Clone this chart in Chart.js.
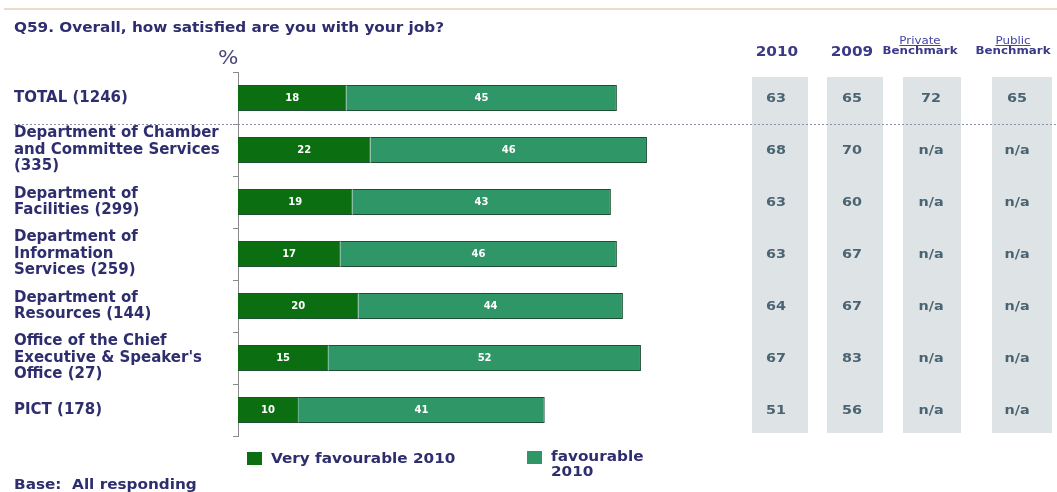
<!DOCTYPE html>
<html lang="en">
<head>
  <meta charset="UTF-8" />
  <title>Q59 Job satisfaction</title>
  <script src="https://cdn.jsdelivr.net/npm/chart.js"></script>
  <style>
    body { margin: 0; background: #fff; font-family: "DejaVu Sans", Verdana, sans-serif; }
    #wrap { position: relative; width: 1057px; height: 492px; overflow: hidden; }
    #topline { position: absolute; left: 4px; right: 0; top: 8px; height: 2px; background: #efdac8; }
    .txt { position: absolute; color: #2e2e6e; font-weight: bold; white-space: nowrap; transform: scaleX(1.13); transform-origin: left center; }
    #title { left: 14px; top: 19px; font-size: 13.5px; }
    #pct { left: 218px; top: 46px; font-size: 19px; color: #4a4a78; font-weight: normal; }
    .head { position: absolute; top: 43px; width: 90px; text-align: center; color: #3a3a88; font-weight: bold; font-size: 13.5px; transform: scaleX(1.13); }
    .bench { top: 35px; font-size: 10.5px; line-height: 10px; }
    .bench u { font-weight: normal; color: #4545a8; }
    #legend .sw { position: absolute; width: 15px; height: 13px; }
    #base { left: 14px; top: 476px; font-size: 13.5px; }
  </style>
</head>
<body>
<div id="wrap">
  <div id="topline"></div>
  <div class="txt" id="title">Q59. Overall, how satisfied are you with your job?</div>
  <div class="txt" id="pct">%</div>
  <div class="head" style="left:732px">2010</div>
  <div class="head" style="left:807px">2009</div>
  <div class="head bench" style="left:875px"><u>Private</u><br>Benchmark</div>
  <div class="head bench" style="left:968px"><u>Public</u><br>Benchmark</div>
  <div id="legend"></div>
  <div class="txt" id="base">Base:&nbsp; All responding</div>
  <canvas id="chart" width="1057" height="492"></canvas>
</div>

<script>
  // category labels (multi-line) and the two stacked series
  const categories = [
    ['TOTAL (1246)'],
    ['Department of Chamber', 'and Committee Services', '(335)'],
    ['Department of', 'Facilities (299)'],
    ['Department of', 'Information', 'Services (259)'],
    ['Department of', 'Resources (144)'],
    ['Office of the Chief', "Executive & Speaker's", 'Office (27)'],
    ['PICT (178)']
  ];
  const veryFavourable = [18, 22, 19, 17, 20, 15, 10];
  const favourable = [45, 46, 43, 46, 44, 52, 41];

  // comparison table on the right
  const col2010 = ['63', '68', '63', '63', '64', '67', '51'];
  const col2009 = ['65', '70', '60', '67', '67', '83', '56'];
  const privateBenchmark = ['72', 'n/a', 'n/a', 'n/a', 'n/a', 'n/a', 'n/a'];
  const publicBenchmark = ['65', 'n/a', 'n/a', 'n/a', 'n/a', 'n/a', 'n/a'];

  const seriesLabels = ['Very favourable 2010', 'favourable 2010'];
  const seriesColors = ['#0b6e10', '#2f9668'];

  // grey column boxes and where their values sit
  const tableCols = [
    { cx: 780, w: 56, tx: 776, values: col2010 },
    { cx: 855, w: 56, tx: 852, values: col2009 },
    { cx: 932, w: 58, tx: 931, values: privateBenchmark },
    { cx: 1022, w: 60, tx: 1017, values: publicBenchmark }
  ];

  const tablePlugin = {
    id: 'sideTable',
    beforeDatasetsDraw(chart) {
      const { ctx, scales: { y } } = chart;
      ctx.save();
      ctx.fillStyle = '#dee4e6';
      const top = y.top + 5, bottom = y.bottom - 3;
      tableCols.forEach(c => ctx.fillRect(c.cx - c.w / 2, top, c.w, bottom - top));
      ctx.restore();
    },
    afterDatasetsDraw(chart) {
      const { ctx, scales: { y } } = chart;
      ctx.save();
      ctx.textAlign = 'center';
      ctx.textBaseline = 'middle';
      // segment values inside the bars
      ctx.fillStyle = '#ffffff';
      ctx.font = 'bold 10px "DejaVu Sans"';
      chart.data.datasets.forEach((ds, di) => {
        chart.getDatasetMeta(di).data.forEach((bar, i) => {
          ctx.fillText(String(ds.data[i]), (bar.x + bar.base) / 2, bar.y);
        });
      });
      // table values, slightly widened like the rest of the text
      ctx.fillStyle = '#4b6473';
      ctx.font = 'bold 12.5px "DejaVu Sans"';
      tableCols.forEach(c => {
        c.values.forEach((v, i) => {
          ctx.save();
          ctx.translate(c.tx, y.getPixelForValue(i) + 1);
          ctx.scale(1.15, 1);
          ctx.fillText(v, 0, 0);
          ctx.restore();
        });
      });
      // dotted separator under the TOTAL row
      const sepY = Math.round((y.getPixelForValue(0) + y.getPixelForValue(1)) / 2) + 0.5;
      ctx.strokeStyle = '#8d8fa6';
      ctx.lineWidth = 1;
      ctx.setLineDash([2, 2]);
      ctx.beginPath();
      ctx.moveTo(14, sepY);
      ctx.lineTo(chart.width, sepY);
      ctx.stroke();
      ctx.restore();
    }
  };

  new Chart(document.getElementById('chart'), {
    type: 'bar',
    data: {
      labels: categories,
      datasets: [
        { label: seriesLabels[0], data: veryFavourable, backgroundColor: seriesColors[0] },
        { label: seriesLabels[1], data: favourable, backgroundColor: seriesColors[1] }
      ].map(d => Object.assign(d, {
        borderColor: '#1f4f33', borderWidth: 1,
        categoryPercentage: 1, barPercentage: 0.5
      }))
    },
    options: {
      indexAxis: 'y',
      responsive: false,
      animation: false,
      layout: { padding: { left: 14, top: 72, bottom: 56, right: 398 } },
      plugins: { legend: { display: false }, tooltip: { enabled: false } },
      scales: {
        x: { stacked: true, min: 0, max: 70, display: false },
        y: {
          stacked: true,
          afterFit(scale) { scale.width = 224; },
          border: { display: true, color: '#8a8a8a' },
          grid: { drawOnChartArea: false, tickLength: 5, color: '#8a8a8a' },
          ticks: {
            autoSkip: false,
            crossAlign: 'far',
            color: '#2e2e6e',
            font: { family: 'DejaVu Sans', weight: 'bold', size: 15, lineHeight: 1.1 }
          }
        }
      }
    },
    plugins: [tablePlugin]
  });

  // legend built from the series definitions
  const legend = document.getElementById('legend');
  const legendPos = [{ x: 247, y: 452, w: null }, { x: 527, y: 451, w: 80 }];
  seriesLabels.forEach((lab, i) => {
    const p = legendPos[i];
    const sw = document.createElement('div');
    sw.className = 'sw';
    sw.style.left = p.x + 'px';
    sw.style.top = p.y + 'px';
    sw.style.background = seriesColors[i];
    legend.appendChild(sw);
    const t = document.createElement('div');
    t.className = 'txt';
    t.style.left = (p.x + 24) + 'px';
    t.style.top = (p.y - 2) + 'px';
    t.style.fontSize = '13.5px';
    if (p.w) {
      t.style.whiteSpace = 'normal';
      t.style.width = p.w + 'px';
      t.style.lineHeight = '15px';
      t.style.transformOrigin = 'left top';
    }
    t.textContent = lab;
    legend.appendChild(t);
  });
</script>
</body>
</html>
